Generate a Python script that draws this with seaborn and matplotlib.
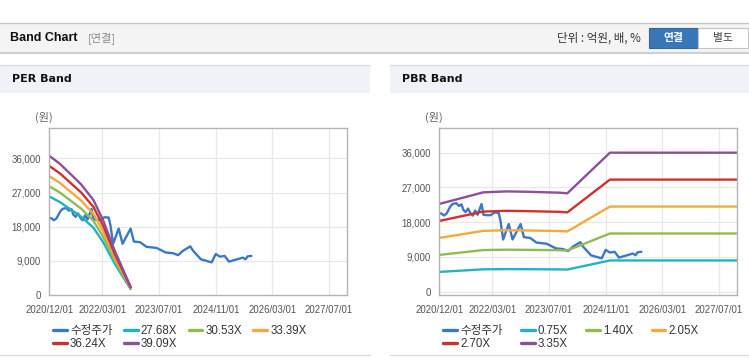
import matplotlib
matplotlib.use('Agg')
import matplotlib.pyplot as plt
import matplotlib.dates as mdates
from matplotlib.patches import Rectangle
from matplotlib.lines import Line2D
import seaborn as sns
import pandas as pd

# ---------------- data ----------------
price_dates = ['2020-12-01', '2020-12-20', '2021-01-10', '2021-02-01', '2021-03-05', '2021-03-25',
               '2021-04-25', '2021-05-20', '2021-06-10', '2021-06-25', '2021-07-15', '2021-08-05',
               '2021-08-25', '2021-09-15', '2021-10-05', '2021-10-25', '2021-11-29', '2021-12-15',
               '2022-01-15', '2022-02-15', '2022-03-20', '2022-04-25', '2022-05-10', '2022-06-02',
               '2022-07-20', '2022-08-22', '2022-10-30', '2022-11-27', '2023-01-20', '2023-03-15',
               '2023-06-10', '2023-08-28', '2023-10-30', '2023-12-12', '2024-01-25', '2024-03-25',
               '2024-04-20', '2024-06-25', '2024-08-10', '2024-09-25', '2024-10-30', '2024-12-05',
               '2025-01-15', '2025-02-20', '2025-04-20', '2025-06-20', '2025-07-12', '2025-08-01',
               '2025-09-01']
price_values = [20300, 20200, 19700, 20200, 22000, 22700, 22900, 22200, 22600, 21200, 20600, 21500,
                20300, 19700, 21000, 19900, 22700, 19900, 19800, 19800, 20500, 20400, 18400, 13500,
                17500, 13500, 17500, 14100, 13900, 12700, 12400, 11200, 11000, 10500, 11700, 12800,
                11600, 9400, 9000, 8600, 10800, 10100, 10300, 8800, 9300, 9850, 9400, 10200,
                10300]

per_dates = ['2020-12-01', '2021-03-01', '2021-06-01', '2021-09-01', '2021-12-15', '2022-03-10',
             '2022-06-15', '2022-10-30']
per_eps = [938, 885, 815, 745, 640, 500, 300, 56]
per_multiples = [27.68, 30.53, 33.39, 36.24, 39.09]
per_labels = ['27.68X', '30.53X', '33.39X', '36.24X', '39.09X']

pbr_dates = ['2020-12-01', '2021-12-13', '2022-07-01', '2023-01-01', '2023-10-01', '2023-12-05',
             '2024-12-05', '2027-12-01']
pbr_bps = [6780, 7675, 7750, 7720, 7650, 7600, 10746, 10746]
pbr_multiples = [0.75, 1.40, 2.05, 2.70, 3.35]
pbr_labels = ['0.75X', '1.40X', '2.05X', '2.70X', '3.35X']

price_label = '수정주가'
x_tick_labels = ['2020/12/01', '2022/03/01', '2023/07/01', '2024/11/01', '2026/03/01', '2027/07/01']
y_ticks = [0, 9000, 18000, 27000, 36000]
colors = ['#3b78c9', '#22b2c6', '#8fbc52', '#f2aa3c', '#d4302b', '#8c4f9a']

# ---------------- style ----------------
sns.set_style('white')
plt.rcParams['font.family'] = ['Liberation Sans', 'Noto Sans CJK KR', 'DejaVu Sans']
plt.rcParams['axes.unicode_minus'] = False

W, H = 749, 364
fig = plt.figure(figsize=(W / 100, H / 100), dpi=100)
fig.patch.set_facecolor('white')


def R(x, y, w, h, **kw):
    fig.add_artist(Rectangle((x / W, 1 - (y + h) / H), w / W, h / H,
                             transform=fig.transFigure, **kw))


def T(x, y, s, **kw):
    fig.text(x / W, 1 - y / H, s, **kw)


def L(x0, y0, x1, y1, **kw):
    fig.add_artist(Line2D([x0 / W, x1 / W], [1 - y0 / H, 1 - y1 / H],
                          transform=fig.transFigure, **kw))


# top header
L(0, 22.5, 749, 22.5, color='#c6c6c6', lw=1)
R(0, 23, 749, 29, facecolor='#f4f4f4', edgecolor='none')
L(0, 52.5, 749, 52.5, color='#cfcfcf', lw=1.5)
T(10, 38, 'Band Chart', fontsize=9, fontweight='bold', color='#111111', va='center',
  family=['Liberation Sans Narrow', 'Liberation Sans', 'Noto Sans CJK KR'])
T(88, 38, '[연결]', fontsize=8, color='#8a8a8a', va='center',
  family=['Noto Sans CJK KR', 'DejaVu Sans'])
T(641, 38, '단위 : 억원, 배, %', fontsize=8.3, color='#333333', va='center', ha='right',
  family=['Noto Sans CJK KR', 'DejaVu Sans'])
R(649, 28, 49, 20, facecolor='#3a77b8', edgecolor='#2f66a3', lw=0.8)
T(673.5, 38, '연결', fontsize=7.8, color='white', fontweight='bold', va='center', ha='center',
  family=['Noto Sans CJK KR', 'DejaVu Sans'])
R(698, 28, 50, 20, facecolor='white', edgecolor='#c4c4c4', lw=0.8)
T(723, 38, '별도', fontsize=7.8, color='#444444', va='center', ha='center',
  family=['Noto Sans CJK KR', 'DejaVu Sans'])

# panel headers
for px0, pw, title in [(0, 370, 'PER Band'), (390, 359, 'PBR Band')]:
    L(px0, 64.5, px0 + pw, 64.5, color='#dcdcdc', lw=1)
    R(px0, 65, pw, 28, facecolor='#eff2f7', edgecolor='none')
    T(px0 + 12, 79.5, title, fontsize=8, fontweight='bold', color='#111111', va='center',
      family='DejaVu Sans')
    L(px0, 354.5, px0 + pw, 354.5, color='#dcdcdc', lw=1)
    T(px0 + 44, 117, '(원)', fontsize=8, color='#666666', va='center', ha='center',
      family=['Noto Sans CJK KR', 'DejaVu Sans'])


def build_df(base_dates, base_vals, multiples, labels):
    rows = []
    for d, v in zip(price_dates, price_values):
        rows.append((pd.Timestamp(d), v, price_label))
    for m, lab in zip(multiples, labels):
        for d, b in zip(base_dates, base_vals):
            rows.append((pd.Timestamp(d), b * m, lab))
    return pd.DataFrame(rows, columns=['date', 'value', 'series'])


panels = [
    (49.3, 347.0, (0, 44000), build_df(per_dates, per_eps, per_multiples, per_labels),
     per_labels, 1.0),
    (439.3, 737.0, (-900, 42400), build_df(pbr_dates, pbr_bps, pbr_multiples, pbr_labels),
     pbr_labels, 1.6),
]

xt = [pd.Timestamp(s.replace('/', '-')) for s in x_tick_labels]

for left, right, ylim, df, labels, colsp in panels:
    top, bottom = 128, 295
    ax = fig.add_axes([left / W, 1 - bottom / H, (right - left) / W, (bottom - top) / H])
    names = [price_label] + labels
    sns.lineplot(data=df, x='date', y='value', hue='series', hue_order=names,
                 palette=colors, ax=ax, linewidth=1.7, legend=False, estimator=None,
                 sort=False)
    ax.set_xlim(pd.Timestamp('2020-12-01'), pd.Timestamp('2027-12-01'))
    ax.set_ylim(*ylim)
    ax.set_xticks(xt)
    ax.set_xticklabels(x_tick_labels)
    ax.set_yticks(y_ticks)
    ax.set_yticklabels([f'{v:,}' for v in y_ticks])
    ax.set_xlabel('')
    ax.set_ylabel('')
    ax.grid(True, color='#e8e8e8', lw=0.9)
    ax.set_axisbelow(True)
    for sp in ax.spines.values():
        sp.set_visible(True)
        sp.set_color('#b4b4b4')
        sp.set_linewidth(1.0)
    ax.tick_params(axis='both', length=0, labelsize=6.9, colors='#555555')
    ax.tick_params(axis='y', pad=6)
    ax.tick_params(axis='x', pad=7)

    lines = ax.get_lines()[:6]
    handles = [Line2D([], [], color=l.get_color(), lw=2.4) for l in lines]
    order = [0, 4, 1, 5, 2, 3]
    leg = ax.legend([handles[i] for i in order], [names[i] for i in order], ncol=4,
                    loc='upper left', bbox_to_anchor=((left + 4) / W, 1 - 325 / H),
                    bbox_transform=fig.transFigure, frameon=False, fontsize=8.3,
                    handlelength=1.2, handletextpad=0.25, columnspacing=colsp,
                    labelspacing=0.12, borderpad=0, borderaxespad=0)
    for t in leg.get_texts():
        t.set_color('#333333')

fig.savefig('out.png', dpi=100, facecolor='white')
